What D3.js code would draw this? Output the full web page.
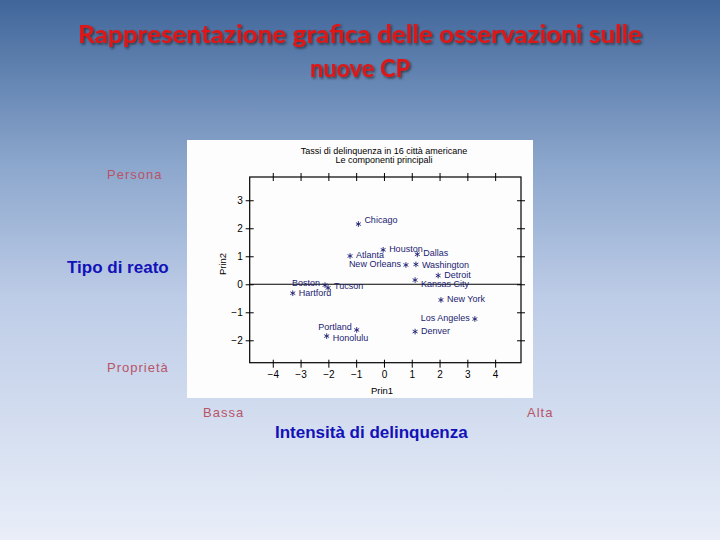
<!DOCTYPE html>
<html>
<head>
<meta charset="utf-8">
<script src="https://cdn.jsdelivr.net/npm/d3@7"></script>
<style>
  body { margin: 0; }
  svg { display: block; }
</style>
</head>
<body>
<script>
// scores of the 16 cities on the first two principal components
const cities = ["Chicago", "Houston", "Atlanta", "New Orleans", "Dallas", "Washington",
  "Detroit", "Kansas City", "New York", "Los Angeles", "Denver", "Portland",
  "Honolulu", "Boston", "Tucson", "Hartford"];
const prin1 = [-0.92, -0.03, -1.22, 0.79, 1.20, 1.15, 1.95, 1.12, 2.05, 3.27, 1.12, -0.98, -2.06, -2.12, -2.01, -3.28];
const prin2 = [2.15, 1.23, 1.01, 0.69, 1.07, 0.71, 0.31, 0.15, -0.56, -1.24, -1.69, -1.63, -1.85, -0.03, -0.13, -0.32];

const xTicks = [-4, -3, -2, -1, 0, 1, 2, 3, 4];
const yTicks = [-2, -1, 0, 1, 2, 3];

// labels written on the left of the point
const leftLabels = ["New Orleans", "Los Angeles", "Portland", "Boston"];
// small vertical shifts (px) so crowded labels don't collide
const nudge = { "Chicago": -3, "Kansas City": 5, "Portland": -2,
  "Honolulu": 3, "Boston": -1, "Hartford": 1, "Washington": 1, "Tucson": -1 };

const W = 720, H = 540;
const svg = d3.select("body").append("svg")
  .attr("width", W)
  .attr("height", H);

const defs = svg.append("defs");
const grad = defs.append("linearGradient")
  .attr("id", "bg")
  .attr("x1", 0).attr("y1", 0).attr("x2", 0).attr("y2", 1);
grad.append("stop").attr("offset", "0%").attr("stop-color", "#40669a");
grad.append("stop").attr("offset", "30%").attr("stop-color", "#8ba6cc");
grad.append("stop").attr("offset", "55%").attr("stop-color", "#bdcce7");
grad.append("stop").attr("offset", "100%").attr("stop-color", "#e9eef8");

const shadow = defs.append("filter").attr("id", "shadow")
  .attr("x", "-5%").attr("y", "-20%").attr("width", "110%").attr("height", "150%");
shadow.append("feDropShadow")
  .attr("dx", 1.5).attr("dy", 1.5).attr("stdDeviation", 0.8)
  .attr("flood-color", "#202020").attr("flood-opacity", 0.75);

svg.append("rect").attr("width", W).attr("height", H).attr("fill", "url(#bg)");

// slide title
const title = svg.append("g")
  .attr("font-family", "Lato, 'Open Sans', sans-serif")
  .attr("font-weight", "bold")
  .attr("font-size", 25)
  .attr("fill", "#e01414")
  .attr("text-anchor", "middle")
  .attr("filter", "url(#shadow)");
title.append("text").attr("x", 360).attr("y", 43)
  .attr("textLength", 564).attr("lengthAdjust", "spacingAndGlyphs")
  .text("Rappresentazione grafica delle osservazioni sulle");
title.append("text").attr("x", 360).attr("y", 77)
  .attr("textLength", 100).attr("lengthAdjust", "spacingAndGlyphs")
  .text("nuove CP");

// the plot picture
svg.append("rect")
  .attr("x", 187).attr("y", 140)
  .attr("width", 346).attr("height", 258)
  .attr("fill", "#fdfdfd");

const pLeft = 249.7, pRight = 521, pTop = 177, pBottom = 362.7;
const x = d3.scaleLinear().domain([-4.83, 4.93]).range([pLeft, pRight]);
const y = d3.scaleLinear().domain([-2.8, 3.83]).range([pBottom, pTop]);

const plot = svg.append("g")
  .attr("font-family", "Arial, 'Liberation Sans', sans-serif");

plot.append("text")
  .attr("x", 384).attr("y", 154)
  .attr("text-anchor", "middle")
  .attr("font-size", 9)
  .text("Tassi di delinquenza in 16 città americane");
plot.append("text")
  .attr("x", 384).attr("y", 163)
  .attr("text-anchor", "middle")
  .attr("font-size", 9)
  .text("Le componenti principali");

function styleAxis(g) {
  g.select(".domain").remove();
  g.selectAll(".tick line").attr("stroke", "#000").attr("stroke-width", 1);
  g.selectAll(".tick text").attr("fill", "#000").attr("font-size", 10)
    .attr("font-family", "Arial, 'Liberation Sans', sans-serif");
}

plot.append("g")
  .attr("transform", `translate(0,${pBottom - 3})`)
  .call(d3.axisBottom(x).tickValues(xTicks).tickSize(8).tickPadding(3).tickFormat(d3.format("d")))
  .call(styleAxis);

plot.append("g")
  .attr("transform", `translate(0,${pTop + 4})`)
  .call(d3.axisTop(x).tickValues(xTicks).tickSize(8).tickFormat(""))
  .call(styleAxis);

plot.append("g")
  .attr("transform", `translate(${pLeft + 4},0)`)
  .call(d3.axisLeft(y).tickValues(yTicks).tickSize(8).tickPadding(3).tickFormat(d3.format("d")))
  .call(styleAxis);

plot.append("g")
  .attr("transform", `translate(${pRight - 4},0)`)
  .call(d3.axisRight(y).tickValues(yTicks).tickSize(8).tickFormat(""))
  .call(styleAxis);

plot.append("rect")
  .attr("x", pLeft).attr("y", pTop)
  .attr("width", pRight - pLeft).attr("height", pBottom - pTop)
  .attr("fill", "none").attr("stroke", "#000").attr("stroke-width", 1.2);

plot.append("line")
  .attr("x1", pLeft).attr("x2", pRight)
  .attr("y1", y(0)).attr("y2", y(0))
  .attr("stroke", "#000").attr("stroke-width", 1.2);

plot.append("text")
  .attr("x", 382).attr("y", 394)
  .attr("text-anchor", "middle")
  .attr("font-size", 9.5)
  .text("Prin1");
plot.append("text")
  .attr("transform", "translate(226,264) rotate(-90)")
  .attr("text-anchor", "middle")
  .attr("font-size", 9.5)
  .text("Prin2");

const pts = cities.map((c, i) => ({ city: c, p1: prin1[i], p2: prin2[i] }));
const ink = "#1c1c70";

plot.selectAll("path.pt")
  .data(pts)
  .enter()
  .append("path")
  .attr("class", "pt")
  .attr("transform", (d) => `translate(${x(d.p1)},${y(d.p2)})`)
  .attr("d", d3.symbol().type(d3.symbolAsterisk).size(22))
  .attr("fill", "none")
  .attr("stroke", ink)
  .attr("stroke-width", 0.9);

plot.selectAll("text.lab")
  .data(pts)
  .enter()
  .append("text")
  .attr("class", "lab")
  .attr("x", (d) => leftLabels.includes(d.city) ? x(d.p1) - 5 : x(d.p1) + 6)
  .attr("y", (d) => y(d.p2) - 1 + (nudge[d.city] || 0))
  .attr("dy", "0.35em")
  .attr("text-anchor", (d) => leftLabels.includes(d.city) ? "end" : "start")
  .attr("font-size", 9)
  .attr("fill", ink)
  .text((d) => d.city);

// slide annotations
const rose = "#b85468", blue = "#1212b8";
const notes = svg.append("g").attr("font-family", "Arial, 'Liberation Sans', sans-serif");
notes.append("text").attr("x", 107).attr("y", 179).attr("font-size", 13)
  .attr("letter-spacing", 1).attr("fill", rose).text("Persona");
notes.append("text").attr("x", 107).attr("y", 372).attr("font-size", 13)
  .attr("letter-spacing", 1).attr("fill", rose).text("Proprietà");
notes.append("text").attr("x", 67).attr("y", 273).attr("font-size", 17)
  .attr("font-weight", "bold").attr("fill", blue).text("Tipo di reato");
notes.append("text").attr("x", 203).attr("y", 417).attr("font-size", 13)
  .attr("letter-spacing", 1).attr("fill", rose).text("Bassa");
notes.append("text").attr("x", 527).attr("y", 417).attr("font-size", 13)
  .attr("letter-spacing", 1).attr("fill", rose).text("Alta");
notes.append("text").attr("x", 275).attr("y", 438).attr("font-size", 17)
  .attr("font-weight", "bold").attr("fill", blue).text("Intensità di delinquenza");
</script>
</body>
</html>
